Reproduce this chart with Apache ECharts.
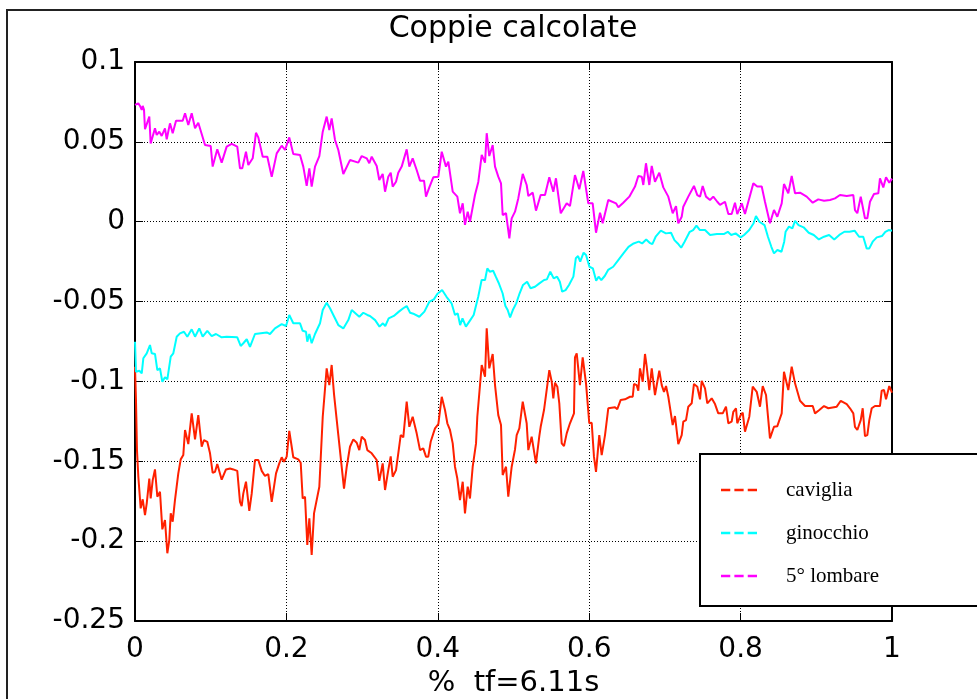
<!DOCTYPE html>
<html>
<head>
<meta charset="utf-8">
<script src="https://cdn.jsdelivr.net/npm/echarts@6/dist/echarts.min.js"></script>
<style>
html, body { margin: 0; padding: 0; background: #fff; }
#coppie { width: 977px; height: 699px; }
</style>
</head>
<body>
<div id="coppie"></div>
<script>
var seriesNames = ["caviglia", "ginocchio", "5° lombare"]
var seriesColors = ["#ff2000", "#00ffff", "#ff00ff"]

// [x, coppia] pairs
var caviglia = [
    [0, -0.0908], [0.0013, -0.1116], [0.0026, -0.143], [0.0044, -0.1597], [0.0075, -0.1795], [0.0102, -0.1738],
    [0.0132, -0.1837], [0.0155, -0.1763], [0.0189, -0.1608], [0.0207, -0.1733], [0.0234, -0.1618], [0.0264, -0.1551],
    [0.0295, -0.1722], [0.033, -0.1691], [0.0361, -0.1926], [0.0396, -0.1868], [0.0427, -0.2076], [0.0453, -0.1993],
    [0.0472, -0.1826], [0.0498, -0.1878], [0.0528, -0.1743], [0.0572, -0.1576], [0.0604, -0.1488], [0.0638, -0.1461],
    [0.0661, -0.1304], [0.0683, -0.1309], [0.0704, -0.1392], [0.0749, -0.12], [0.0793, -0.1363], [0.0836, -0.1211],
    [0.0881, -0.1409], [0.0911, -0.1367], [0.0955, -0.1378], [0.0991, -0.145], [0.1026, -0.1572], [0.1057, -0.1566],
    [0.1087, -0.1517], [0.1145, -0.1615], [0.1202, -0.1551], [0.1255, -0.1545], [0.1299, -0.1551], [0.1351, -0.156],
    [0.1387, -0.1754], [0.1409, -0.178], [0.1431, -0.1701], [0.1466, -0.1628], [0.151, -0.181], [0.1542, -0.1701],
    [0.1585, -0.1492], [0.1629, -0.1492], [0.1674, -0.156], [0.1717, -0.1592], [0.1761, -0.158], [0.1806, -0.1754],
    [0.1863, -0.1576], [0.1906, -0.1513], [0.1938, -0.1475], [0.1968, -0.1503], [0.2004, -0.1471], [0.2038, -0.1309],
    [0.207, -0.1409], [0.2091, -0.1475], [0.2157, -0.1488], [0.2189, -0.1509], [0.2215, -0.1733], [0.2246, -0.1722],
    [0.2276, -0.2024], [0.2303, -0.1857], [0.2334, -0.2087], [0.2365, -0.1826], [0.2391, -0.1816], [0.2435, -0.1659],
    [0.248, -0.1221], [0.2501, -0.1211], [0.2532, -0.0918], [0.2567, -0.1023], [0.2598, -0.0897], [0.2629, -0.1079],
    [0.2665, -0.1242], [0.2686, -0.1336], [0.2761, -0.1671], [0.2797, -0.1534], [0.284, -0.1409], [0.2884, -0.1363],
    [0.2929, -0.1384], [0.2963, -0.143], [0.2995, -0.1346], [0.3038, -0.1367], [0.3069, -0.143], [0.3127, -0.145],
    [0.3193, -0.1492], [0.3227, -0.1623], [0.3272, -0.1513], [0.3303, -0.168], [0.3329, -0.1669], [0.3346, -0.1555],
    [0.3378, -0.1469], [0.3404, -0.1597], [0.3448, -0.1555], [0.3478, -0.145], [0.351, -0.1336], [0.3544, -0.135],
    [0.3589, -0.1127], [0.3624, -0.1284], [0.3668, -0.1221], [0.3721, -0.1325], [0.3765, -0.143], [0.3808, -0.1419],
    [0.3844, -0.1471], [0.3874, -0.1471], [0.3906, -0.1378], [0.3963, -0.1294], [0.4007, -0.1267], [0.4052, -0.1096],
    [0.4095, -0.1179], [0.4126, -0.1262], [0.4161, -0.1304], [0.4197, -0.1388], [0.4227, -0.1534], [0.4258, -0.1608],
    [0.4293, -0.1743], [0.4329, -0.1628], [0.4359, -0.1826], [0.4395, -0.1659], [0.4425, -0.1733], [0.4461, -0.1534],
    [0.4505, -0.1388], [0.4522, -0.1221], [0.4548, -0.1211], [0.458, -0.0897], [0.4624, -0.097], [0.4646, -0.0668],
    [0.468, -0.0918], [0.4725, -0.0828], [0.4756, -0.1023], [0.4799, -0.1211], [0.4835, -0.1273], [0.4857, -0.1586],
    [0.4901, -0.1534], [0.4931, -0.1722], [0.4976, -0.1534], [0.502, -0.1426], [0.5042, -0.1336], [0.5077, -0.1294],
    [0.5122, -0.1127], [0.5174, -0.1262], [0.5196, -0.143], [0.524, -0.1346], [0.5297, -0.1513], [0.5341, -0.1342],
    [0.5359, -0.1284], [0.5403, -0.1179], [0.5429, -0.1168], [0.5473, -0.0929], [0.5505, -0.1002], [0.5526, -0.1106],
    [0.5548, -0.1008], [0.5579, -0.1033], [0.5605, -0.1137], [0.5637, -0.1388], [0.5667, -0.1405], [0.5703, -0.1325],
    [0.5746, -0.1262], [0.5799, -0.12], [0.5812, -0.0849], [0.5835, -0.0824], [0.5878, -0.1023], [0.5914, -0.0849],
    [0.5958, -0.1012], [0.6001, -0.1262], [0.6033, -0.1259], [0.6063, -0.1471], [0.609, -0.1566], [0.6133, -0.1336],
    [0.6165, -0.1461], [0.6186, -0.1461], [0.6209, -0.1336], [0.6252, -0.1168], [0.6341, -0.1162], [0.6371, -0.1174],
    [0.6416, -0.1116], [0.6473, -0.1112], [0.6539, -0.1096], [0.6575, -0.1096], [0.6592, -0.1016], [0.6627, -0.1023],
    [0.6649, -0.1058], [0.6671, -0.0918], [0.6694, -0.0918], [0.6707, -0.1002], [0.6737, -0.0828], [0.676, -0.0908],
    [0.6794, -0.1054], [0.6826, -0.0918], [0.6869, -0.1085], [0.6926, -0.0933], [0.6958, -0.1023], [0.6988, -0.1065],
    [0.7015, -0.1029], [0.7045, -0.1096], [0.7103, -0.1273], [0.7133, -0.1217], [0.7177, -0.1392], [0.7222, -0.1336],
    [0.7243, -0.1252], [0.7279, -0.1242], [0.7309, -0.1158], [0.7354, -0.1137], [0.7384, -0.1016], [0.7428, -0.1033],
    [0.7464, -0.1112], [0.7486, -0.0996], [0.753, -0.1043], [0.756, -0.1137], [0.7618, -0.1106], [0.7662, -0.1142],
    [0.7705, -0.12], [0.7764, -0.12], [0.7807, -0.1158], [0.7838, -0.1262], [0.7882, -0.1252], [0.7904, -0.119],
    [0.7939, -0.1168], [0.7956, -0.1262], [0.8001, -0.1211], [0.8028, -0.1196], [0.8058, -0.1315], [0.8115, -0.1221],
    [0.816, -0.1033], [0.8213, -0.1065], [0.8256, -0.1158], [0.8292, -0.1029], [0.8336, -0.1085], [0.8388, -0.1357],
    [0.8441, -0.1284], [0.8485, -0.128], [0.8543, -0.12], [0.8573, -0.0939], [0.863, -0.1054], [0.8675, -0.0908],
    [0.8719, -0.1012], [0.8785, -0.1121], [0.8851, -0.1154], [0.8953, -0.1154], [0.8983, -0.12], [0.904, -0.1179],
    [0.9102, -0.1154], [0.9159, -0.1168], [0.927, -0.1158], [0.9323, -0.1121], [0.9402, -0.1142], [0.9445, -0.1168],
    [0.9489, -0.12], [0.9511, -0.1284], [0.9542, -0.1304], [0.9587, -0.1242], [0.9613, -0.1168], [0.9643, -0.1342],
    [0.9674, -0.1336], [0.97, -0.1242], [0.9732, -0.1168], [0.9775, -0.1154], [0.9841, -0.1154], [0.9864, -0.1058],
    [0.9894, -0.1054], [0.9921, -0.1112], [0.9964, -0.1029], [1, -0.107]
]

var ginocchio = [
    [0, -0.0751], [0.0013, -0.0939], [0.0057, -0.0933], [0.0089, -0.0949], [0.011, -0.0855], [0.0155, -0.0824],
    [0.0198, -0.0772], [0.0221, -0.0824], [0.0264, -0.0828], [0.0295, -0.0929], [0.033, -0.0918], [0.0361, -0.1002],
    [0.0396, -0.0974], [0.0427, -0.0987], [0.0472, -0.0845], [0.0506, -0.0824], [0.0551, -0.072], [0.0594, -0.0699],
    [0.0647, -0.0689], [0.0691, -0.072], [0.0749, -0.0674], [0.0793, -0.072], [0.0849, -0.0668], [0.0894, -0.072],
    [0.0955, -0.0683], [0.1013, -0.0716], [0.107, -0.0703], [0.1145, -0.0724], [0.1211, -0.072], [0.1351, -0.0724],
    [0.1396, -0.0778], [0.1431, -0.0761], [0.1476, -0.0736], [0.1519, -0.0783], [0.1585, -0.0703], [0.174, -0.0693],
    [0.1783, -0.0703], [0.1849, -0.0668], [0.1938, -0.0641], [0.1995, -0.0653], [0.2038, -0.0584], [0.2091, -0.0636],
    [0.218, -0.0636], [0.2215, -0.0683], [0.2259, -0.0689], [0.2276, -0.0751], [0.2303, -0.0703], [0.2334, -0.0761],
    [0.2378, -0.0703], [0.2444, -0.0636], [0.248, -0.0553], [0.2532, -0.0507], [0.2576, -0.0542], [0.262, -0.0584],
    [0.2686, -0.0647], [0.2752, -0.0668], [0.2818, -0.0616], [0.2863, -0.0553], [0.2963, -0.0595], [0.3016, -0.057],
    [0.3069, -0.0584], [0.3104, -0.059], [0.3172, -0.0616], [0.323, -0.0657], [0.3275, -0.0636], [0.3306, -0.0653],
    [0.3351, -0.0605], [0.3419, -0.059], [0.3486, -0.0563], [0.3544, -0.0542], [0.3589, -0.0528], [0.3634, -0.057],
    [0.3688, -0.0578], [0.3756, -0.0595], [0.3823, -0.0563], [0.389, -0.05], [0.3948, -0.0486], [0.3993, -0.0453],
    [0.4057, -0.0428], [0.4115, -0.047], [0.4182, -0.0511], [0.4227, -0.0584], [0.4263, -0.0574], [0.4295, -0.0647],
    [0.4326, -0.0605], [0.4371, -0.0657], [0.4429, -0.0616], [0.4474, -0.0584], [0.4534, -0.047], [0.4579, -0.0365],
    [0.4624, -0.0365], [0.4654, -0.0292], [0.4686, -0.0313], [0.4731, -0.0307], [0.4766, -0.0344], [0.4803, -0.0382],
    [0.4856, -0.0448], [0.4893, -0.0528], [0.4923, -0.0553], [0.4955, -0.0599], [0.4991, -0.0553], [0.5036, -0.0511],
    [0.5081, -0.0448], [0.5126, -0.0396], [0.518, -0.0376], [0.5225, -0.0417], [0.5284, -0.0407], [0.5342, -0.0386],
    [0.5404, -0.0365], [0.5441, -0.0361], [0.5486, -0.0313], [0.5531, -0.0355], [0.5576, -0.0344], [0.5612, -0.0376],
    [0.5643, -0.0438], [0.5688, -0.0428], [0.5733, -0.0396], [0.5791, -0.0344], [0.5823, -0.0229], [0.5853, -0.0215],
    [0.5881, -0.025], [0.5926, -0.0194], [0.5958, -0.0208], [0.6003, -0.0282], [0.6048, -0.0292], [0.6092, -0.0369],
    [0.6124, -0.0344], [0.616, -0.0365], [0.6205, -0.034], [0.625, -0.0302], [0.6317, -0.0282], [0.6384, -0.024],
    [0.6452, -0.0198], [0.6519, -0.0157], [0.6587, -0.0136], [0.6654, -0.0125], [0.6699, -0.0136], [0.6753, -0.0111],
    [0.6798, -0.0132], [0.6834, -0.014], [0.6878, -0.0094], [0.6946, -0.0056], [0.7013, -0.0073], [0.7081, -0.0069],
    [0.7126, -0.0115], [0.717, -0.0136], [0.7215, -0.0163], [0.726, -0.0125], [0.7328, -0.0063], [0.7373, -0.0052],
    [0.7417, -0.0025], [0.7462, -0.0052], [0.753, -0.0052], [0.7597, -0.0083], [0.7687, -0.0077], [0.7777, -0.0077],
    [0.7831, -0.0063], [0.7876, -0.0083], [0.7934, -0.0073], [0.8001, -0.0098], [0.8046, -0.0083], [0.8114, -0.0052],
    [0.8172, -0.001], [0.8203, 0.0036], [0.8248, 0.0], [0.8316, -0.0021], [0.8361, -0.0094], [0.8406, -0.0157],
    [0.8441, -0.0198], [0.8486, -0.0177], [0.854, -0.0188], [0.8576, -0.0125], [0.8594, -0.0063], [0.8639, -0.0031],
    [0.8684, -0.0042], [0.872, 0.0006], [0.8765, -0.0021], [0.8832, -0.0035], [0.89, -0.0069], [0.8967, -0.0083],
    [0.9034, -0.0111], [0.9102, -0.0094], [0.9169, -0.0083], [0.9237, -0.0111], [0.9304, -0.0083], [0.9371, -0.0063],
    [0.9439, -0.0063], [0.9506, -0.0056], [0.9565, -0.0094], [0.962, -0.0094], [0.9665, -0.0167], [0.97, -0.0167],
    [0.9745, -0.0125], [0.9799, -0.0098], [0.9867, -0.009], [0.9912, -0.0063], [0.9956, -0.0052], [1, -0.0056]
]

var lombare = [
    [0, 0.0731], [0.0044, 0.0741], [0.0066, 0.0725], [0.0089, 0.070], [0.0102, 0.0725], [0.0119, 0.070],
    [0.0132, 0.0579], [0.0155, 0.0574], [0.0189, 0.0658], [0.0207, 0.049], [0.0229, 0.048], [0.0264, 0.0585],
    [0.0287, 0.0543], [0.0321, 0.0564], [0.0353, 0.0537], [0.0396, 0.0585], [0.0419, 0.0516], [0.0462, 0.0616],
    [0.0498, 0.0554], [0.0542, 0.0632], [0.063, 0.0632], [0.0661, 0.0679], [0.0704, 0.0606], [0.0749, 0.0679],
    [0.0793, 0.0585], [0.0836, 0.062], [0.0925, 0.048], [0.1, 0.0474], [0.1026, 0.0345], [0.1087, 0.0453],
    [0.1145, 0.037], [0.1211, 0.047], [0.1277, 0.0487], [0.1351, 0.047], [0.1387, 0.0334], [0.1417, 0.0334],
    [0.1466, 0.0438], [0.1497, 0.0355], [0.1519, 0.0349], [0.1555, 0.0397], [0.1598, 0.0557], [0.1629, 0.0528],
    [0.1687, 0.0407], [0.1748, 0.0407], [0.1806, 0.0282], [0.1872, 0.0428], [0.1938, 0.0476], [0.1982, 0.0449],
    [0.2038, 0.0528], [0.2091, 0.0424], [0.218, 0.0418], [0.2223, 0.0345], [0.2268, 0.0224], [0.2303, 0.0334],
    [0.2334, 0.022], [0.2378, 0.0345], [0.2435, 0.0411], [0.248, 0.0564], [0.2532, 0.0658], [0.2567, 0.0574],
    [0.2598, 0.0647], [0.2642, 0.0512], [0.2686, 0.0449], [0.2752, 0.0299], [0.284, 0.0386], [0.295, 0.037],
    [0.2995, 0.0411], [0.3061, 0.0397], [0.3095, 0.0366], [0.3127, 0.0407], [0.3193, 0.0349], [0.3227, 0.0261],
    [0.3272, 0.0299], [0.3303, 0.0188], [0.3346, 0.0282], [0.3378, 0.0307], [0.3404, 0.022], [0.3448, 0.025],
    [0.3478, 0.0307], [0.3523, 0.0345], [0.3544, 0.0334], [0.3589, 0.0453], [0.3624, 0.0345], [0.3668, 0.0397],
    [0.3721, 0.0324], [0.3765, 0.0257], [0.3818, 0.0257], [0.3844, 0.0157], [0.3888, 0.0215], [0.394, 0.0278],
    [0.4007, 0.0282], [0.4052, 0.0438], [0.4108, 0.0345], [0.4139, 0.0376], [0.4197, 0.0188], [0.4258, 0.0157],
    [0.4293, 0.0053], [0.4329, 0.0115], [0.4359, -0.002], [0.4395, 0.0063], [0.4425, 0.0], [0.4491, 0.0167],
    [0.4535, 0.0249], [0.458, 0.0418], [0.4624, 0.037], [0.4646, 0.0554], [0.468, 0.0411], [0.4725, 0.048],
    [0.4756, 0.0345], [0.4799, 0.0282], [0.4835, 0.024], [0.4857, 0.0042], [0.4901, 0.0053], [0.4945, -0.0104],
    [0.4976, 0.0021], [0.502, 0.0063], [0.5063, 0.0146], [0.5122, 0.0299], [0.5174, 0.023], [0.5196, 0.0161],
    [0.5254, 0.0182], [0.5297, 0.0069], [0.5359, 0.0167], [0.5416, 0.0167], [0.5473, 0.0278], [0.5526, 0.0188],
    [0.5561, 0.0272], [0.5624, 0.0053], [0.5703, 0.0115], [0.5746, 0.0098], [0.5812, 0.0292], [0.5869, 0.0203],
    [0.5922, 0.0318], [0.5988, 0.0115], [0.6046, 0.0115], [0.609, -0.0069], [0.6143, 0.0056], [0.6178, -0.001],
    [0.6252, 0.0136], [0.6354, 0.0115], [0.6385, 0.009], [0.645, 0.0119], [0.653, 0.0157], [0.6605, 0.022],
    [0.6649, 0.0286], [0.6694, 0.0282], [0.6715, 0.023], [0.675, 0.0366], [0.6794, 0.023], [0.6826, 0.0349],
    [0.6869, 0.025], [0.6926, 0.0307], [0.6979, 0.0215], [0.7045, 0.0157], [0.7103, 0.0053], [0.7147, 0.0098],
    [0.7177, -0.001], [0.7222, 0.0031], [0.7243, 0.0094], [0.7309, 0.0157], [0.7384, 0.0224], [0.7428, 0.0167],
    [0.7464, 0.0157], [0.7499, 0.0224], [0.7543, 0.0157], [0.7596, 0.0136], [0.7639, 0.0157], [0.7692, 0.0125],
    [0.7728, 0.0105], [0.7794, 0.0125], [0.7838, 0.0048], [0.7882, 0.0048], [0.7926, 0.0119], [0.7956, 0.0048],
    [0.8015, 0.0115], [0.8058, 0.0048], [0.8102, 0.0125], [0.8168, 0.024], [0.822, 0.022], [0.8279, 0.022],
    [0.8322, 0.0125], [0.8388, -0.001], [0.8441, 0.0073], [0.8485, 0.0031], [0.8543, 0.0115], [0.8573, 0.0236],
    [0.863, 0.0178], [0.8675, 0.0286], [0.8719, 0.0178], [0.8785, 0.0182], [0.8873, 0.0157], [0.8953, 0.0119],
    [0.9026, 0.014], [0.9102, 0.0131], [0.9181, 0.0136], [0.9247, 0.0146], [0.9313, 0.0167], [0.9402, 0.0161],
    [0.9489, 0.0167], [0.9511, 0.0073], [0.9542, 0.0053], [0.9587, 0.0157], [0.9613, 0.0094], [0.9643, 0.0021],
    [0.9674, 0.0021], [0.9709, 0.0125], [0.9762, 0.0173], [0.9819, 0.0178], [0.9841, 0.0272], [0.9885, 0.0215],
    [0.9921, 0.0278], [0.9964, 0.0244], [1, 0.027]
]

var seriesData = [caviglia, ginocchio, lombare]

var chartDom = document.getElementById("coppie")
var myChart = echarts.init(chartDom, null, { renderer: "canvas" })

var axisFont = "DejaVu Sans"
var frameLine = { show: true, onZero: false, lineStyle: { color: "#000", width: 2 } }
var inTick = { show: true, inside: true, length: 8, lineStyle: { color: "#000", width: 1 } }
var dotted = { show: true, lineStyle: { color: "#000", width: 1, type: [1, 2] } }

var option = {
    animation: false,
    backgroundColor: "#fff",
    title: {
        text: "Coppie calcolate",
        left: 508,
        top: 9,
        textAlign: "center",
        textStyle: { fontFamily: axisFont, fontSize: 30, fontWeight: "normal", color: "#000" }
    },
    grid: { left: 135, top: 62, right: 85, bottom: 78, outerBoundsMode: "none" },
    legend: {
        orient: "vertical",
        left: 716,
        top: 474,
        z: 20,
        itemWidth: 36,
        itemHeight: 14,
        itemGap: 21,
        icon: "path://M0 0h9v2.4H0zM13 0h9v2.4h-9zM26 0h9v2.4h-9z",
        data: seriesNames,
        textStyle: {
            fontFamily: "Liberation Serif",
            fontSize: 21,
            lineHeight: 22,
            color: "#000",
            padding: [0, 0, 0, 24]
        }
    },
    graphic: [
        {
            type: "rect",
            z: 0,
            silent: true,
            shape: { x: 7, y: 10, width: 1000, height: 1000 },
            style: { fill: null, stroke: "#222", lineWidth: 2 }
        },
        {
            type: "rect",
            z: 10,
            silent: true,
            shape: { x: 700, y: 454, width: 300, height: 152 },
            style: { fill: "#fff", stroke: "#000", lineWidth: 2 }
        }
    ],
    xAxis: [
        {
            type: "value",
            min: 0,
            max: 1,
            interval: 0.2,
            name: "%  tf=6.11s",
            nameLocation: "middle",
            nameGap: 47,
            nameTextStyle: { fontFamily: axisFont, fontSize: 29, color: "#000" },
            axisLine: frameLine,
            axisTick: inTick,
            splitLine: dotted,
            axisLabel: { margin: 15, fontFamily: axisFont, fontSize: 28, color: "#000" }
        },
        {
            type: "value",
            position: "top",
            min: 0,
            max: 1,
            interval: 0.2,
            axisLine: frameLine,
            axisTick: inTick,
            splitLine: { show: false },
            axisLabel: { show: false }
        }
    ],
    yAxis: [
        {
            type: "value",
            min: -0.25,
            max: 0.1,
            interval: 0.05,
            axisLine: frameLine,
            axisTick: inTick,
            splitLine: dotted,
            axisLabel: {
                margin: 10,
                fontFamily: axisFont,
                fontSize: 28,
                color: "#000",
                formatter: function (v) { return String(+v.toFixed(2)) }
            }
        },
        {
            type: "value",
            position: "right",
            min: -0.25,
            max: 0.1,
            interval: 0.05,
            axisLine: frameLine,
            axisTick: inTick,
            splitLine: { show: false },
            axisLabel: { show: false }
        }
    ],
    series: seriesNames.map(function (name, i) {
        return {
            name: name,
            type: "line",
            data: seriesData[i],
            showSymbol: false,
            symbol: "none",
            color: seriesColors[i],
            lineStyle: { color: seriesColors[i], width: 2 }
        }
    })
}

myChart.setOption(option)
</script>
</body>
</html>
